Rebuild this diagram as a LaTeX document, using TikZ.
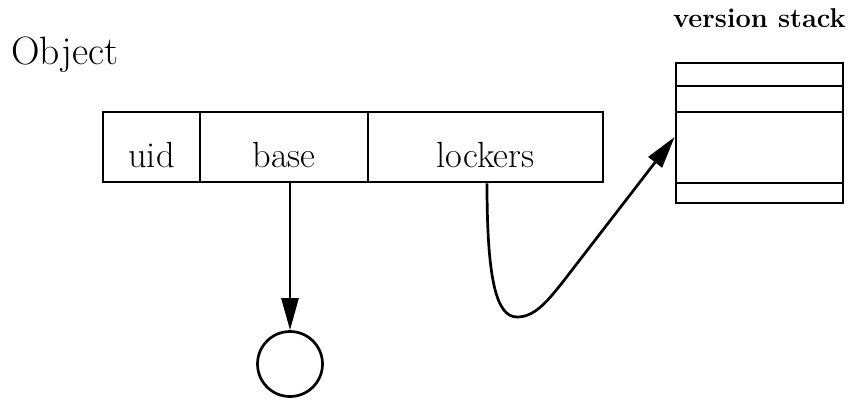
\documentclass[tikz,border=0pt]{standalone}
\usetikzlibrary{arrows.meta}
\begin{document}
\begin{tikzpicture}[x=0.5pt,y=-0.5pt, line width=1.35pt,
  cell/.style={draw, rectangle, inner sep=0pt, minimum height=35pt},
  lbl/.style={anchor=base, inner sep=0pt, font=\fontsize{18.2}{20}\selectfont},
  arr/.style={-{Triangle[length=16pt,width=8.5pt]}}]
\useasboundingbox (0,0) rectangle (852,401);
\node[anchor=base west, inner sep=0pt, font=\fontsize{19.8}{23}\selectfont] (obj) at (10,65) {Object};
\node[cell, minimum width=48.5pt] (uid) at (151.5,147) {};
\node[cell, minimum width=84pt] (base) at (284,147) {};
\node[cell, minimum width=117.5pt] (lockers) at (485.5,147) {};
\coordinate (bl) at (0,168);
\node[lbl] (tuid) at (uid |- bl) {uid};
\node[lbl] (tbase) at (base |- bl) {base};
\node[lbl] (tlock) at (lockers |- bl) {lockers};
\node[draw, circle, inner sep=0pt, minimum size=32.5pt] (obase) at (290,364) {};
\node[draw, rectangle, inner sep=0pt, minimum width=83.5pt, minimum height=70pt] (stack) at (759.5,133) {};
\foreach \yy in {86,112,183} \draw (676,\yy) -- (843,\yy);
\node[anchor=base, inner sep=0pt, font=\bfseries\fontsize{13.6}{16}\selectfont] (vs) at (759.5,28) {version stack};
\draw[arr] (base.south -| obase.north) -- (obase.north);
\draw[arr] ([xshift=0.75pt]lockers.south) .. controls +(0,95) and (496,317) .. (517,317)
  .. controls (534,317) and (546,303) .. (562,283) -- ([yshift=-2pt]stack.west);
\end{tikzpicture}
\end{document}
